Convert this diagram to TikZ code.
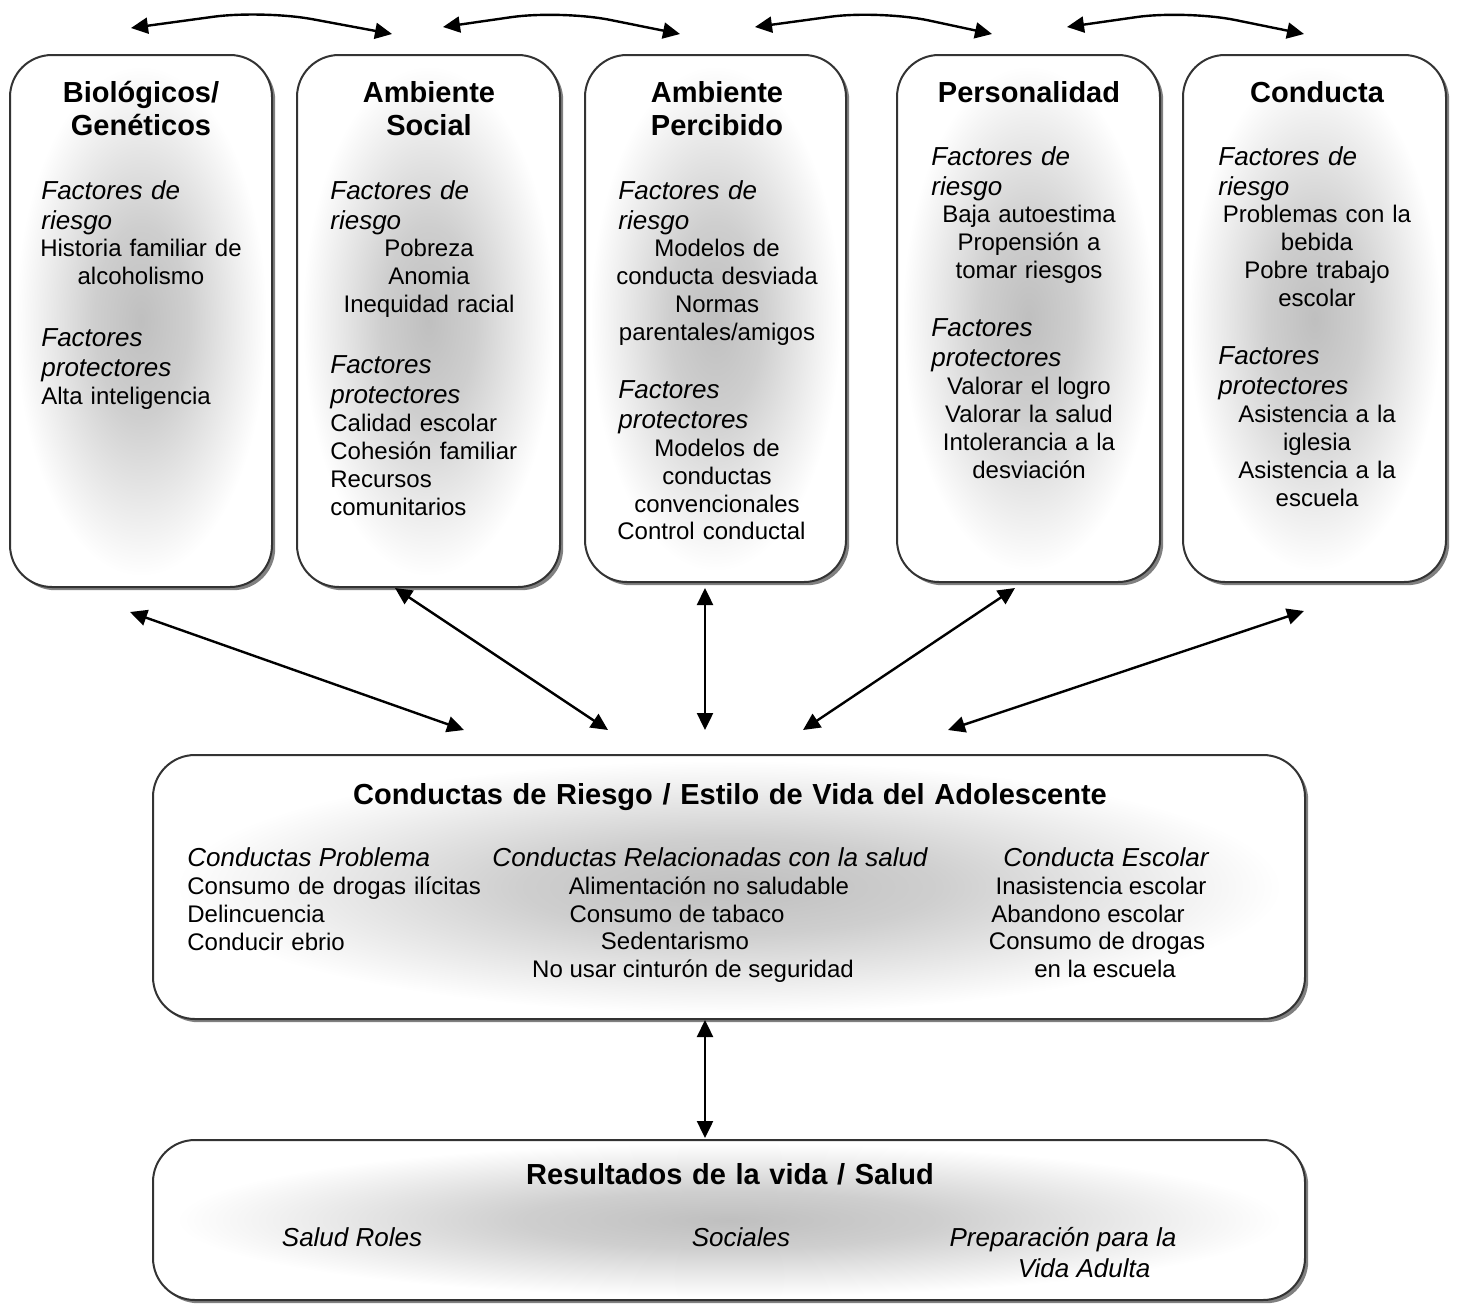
\documentclass[tikz,border=0pt]{standalone}
\usepackage{fontspec}
\setmainfont{Liberation Sans}
\usetikzlibrary{arrows.meta,positioning,shadows}

% soft grey glow inside the panels
\pgfdeclareradialshading{panelglow}{\pgfpoint{0bp}{0bp}}{%
  color(0bp)=(black!25); color(9bp)=(black!19);
  color(24bp)=(white); color(50bp)=(white)}

\begin{document}
\begin{tikzpicture}[x=0.5pt, y=-0.5pt,
  panel/.style={
    draw=black!80, line width=1pt, rounded corners=21pt,
    shade, shading=panelglow, inner sep=0pt,
    drop shadow={shadow xshift=1.6pt, shadow yshift=-1.6pt,
      fill=black!50, opacity=1}
  },
  ttl/.style={font=\fontsize{14.5}{16.5}\selectfont\bfseries,
    text width=125pt, align=center, inner sep=0pt, anchor=base},
  hdr/.style={font=\fontsize{13}{15}\selectfont\itshape,
    text width=125pt, align=left, inner sep=0pt, anchor=base west},
  txt/.style={font=\fontsize{12}{14}\selectfont,
    text width=125pt, align=center, inner sep=0pt, anchor=base},
  txtl/.style={txt, align=left, anchor=base west},
  lbl/.style={font=\fontsize{12}{14}\selectfont, inner sep=0pt, anchor=base},
  ilbl/.style={font=\fontsize{13}{15}\selectfont\itshape, inner sep=0pt,
    anchor=base},
  arr/.style={{Triangle[length=8.5pt,width=8pt]}-{Triangle[length=8.5pt,width=8pt]},
    line width=1.2pt}]

\useasboundingbox (0,0) rectangle (1460,1306);

% Panels
\node[panel, minimum width=131pt, minimum height=266pt] (bio) at (141,321) {};
\node[panel, minimum width=131.5pt, minimum height=266pt] (soc) at (428.5,321) {};
\node[panel, minimum width=130.5pt, minimum height=263.5pt] (per) at (715.5,318.5) {};
\node[panel, minimum width=131.5pt, minimum height=263.5pt] (pers) at (1028.5,318.5) {};
\node[panel, minimum width=131.5pt, minimum height=263.5pt] (cond) at (1314.5,318.5) {};
\node[panel, minimum width=576pt, minimum height=132pt] (estilo) at (729,887) {};
\node[panel, minimum width=576pt, minimum height=80pt] (result) at (729,1220) {};

% Biologicos / Geneticos
\node[ttl] (bioT) at (141,102) {Biológicos/\\Genéticos};
\node[hdr] (bioH1) at (41,199) {Factores de\\riesgo};
\node[txt] (bioR) at (141,256) {Historia familiar de\\alcoholismo};
\node[hdr] (bioH2) at (41,346) {Factores\\protectores};
\node[txtl] (bioP) at (41,404) {Alta inteligencia};

% Ambiente social
\node[ttl] (socT) at (429,102) {Ambiente\\Social};
\node[hdr] (socH1) at (330,199) {Factores de\\riesgo};
\node[txt] (socR) at (429,256) {Pobreza\\Anomia\\Inequidad racial};
\node[hdr] (socH2) at (330,373) {Factores\\protectores};
\node[txtl] (socP) at (330,431)
  {Calidad escolar\\Cohesión familiar\\Recursos\\comunitarios};

% Ambiente percibido
\node[ttl] (perT) at (717,102) {Ambiente\\Percibido};
\node[hdr] (perH1) at (618,199) {Factores de\\riesgo};
\node[txt] (perR) at (717,256)
  {Modelos de\\conducta desviada\\Normas\\parentales/amigos};
\node[hdr] (perH2) at (618,398) {Factores\\protectores};
\node[txt] (perP) at (717,456) {Modelos de\\conductas\\convencionales};
\node[txtl] (perC) at (617,539) {Control conductal};

% Personalidad
\node[ttl] (persT) at (1029,102) {Personalidad};
\node[hdr] (persH1) at (931,165) {Factores de\\riesgo};
\node[txt] (persR) at (1029,222) {Baja autoestima\\Propensión a\\tomar riesgos};
\node[hdr] (persH2) at (931,336) {Factores\\protectores};
\node[txt] (persP) at (1029,394)
  {Valorar el logro\\Valorar la salud\\Intolerancia a la\\desviación};

% Conducta
\node[ttl] (condT) at (1317,102) {Conducta};
\node[hdr] (condH1) at (1218,165) {Factores de\\riesgo};
\node[txt] (condR) at (1317,222)
  {Problemas con la\\bebida\\Pobre trabajo\\escolar};
\node[hdr] (condH2) at (1218,364) {Factores\\protectores};
\node[txt] (condP) at (1317,422)
  {Asistencia a la\\iglesia\\Asistencia a la\\escuela};

% Conductas de riesgo / estilo de vida
\node[ttl, text width=420pt] (estT) at (730,804)
  {Conductas de Riesgo / Estilo de Vida del Adolescente};
\node[ilbl, anchor=base west] (estH1) at (187,866) {Conductas Problema};
\node[txtl, text width=160pt] (estB1) at (187,894)
  {Consumo de drogas ilícitas\\Delincuencia\\Conducir ebrio};
\node[ilbl] (estH2) at (710,866) {Conductas Relacionadas con la salud};
\node[lbl] (estB2a) at (709,894) {Alimentación no saludable};
\node[lbl] (estB2b) at (677,922) {Consumo de tabaco};
\node[lbl] (estB2c) at (675,949) {Sedentarismo};
\node[lbl] (estB2d) at (693,977) {No usar cinturón de seguridad};
\node[ilbl] (estH3) at (1106,866) {Conducta Escolar};
\node[lbl] (estB3a) at (1101,894) {Inasistencia escolar};
\node[lbl] (estB3b) at (1088,922) {Abandono escolar};
\node[lbl] (estB3c) at (1097,949) {Consumo de drogas};
\node[lbl] (estB3d) at (1105,977) {en la escuela};

% Resultados
\node[ttl, text width=300pt] (resT) at (730,1184) {Resultados de la vida / Salud};
\node[ilbl] (resA) at (352,1246) {Salud Roles};
\node[ilbl] (resB) at (741,1246) {Sociales};
\node[ilbl] (resC) at (1063,1246) {Preparación para la};
\node[ilbl] (resD) at (1084,1277) {Vida Adulta};

% Arrow ends
\coordinate (t1a) at (131,28);  \coordinate (t1m) at (263,10);  \coordinate (t1b) at (392,34);
\coordinate (t2a) at (443,27);  \coordinate (t2m) at (561,10);  \coordinate (t2b) at (680,34);
\coordinate (t3a) at (755,27);  \coordinate (t3m) at (880,10);  \coordinate (t3b) at (992,34);
\coordinate (t4a) at (1067,27); \coordinate (t4m) at (1186,10); \coordinate (t4b) at (1304,34);
\coordinate (a1) at (130,612);  \coordinate (a1e) at (464,730);
\coordinate (a2) at (395,588);  \coordinate (a2e) at (608,730);
\coordinate (a3) at (705,588);  \coordinate (a3e) at (705,730);
\coordinate (a4) at (1015,588); \coordinate (a4e) at (803,730);
\coordinate (a5) at (1304,611); \coordinate (a5e) at (948,730);
\coordinate (a6) at (705,1020); \coordinate (a6e) at (705,1138);

% Arrows between panels
\draw[arr, rounded corners=25pt] (t1a) -- (t1m) -- (t1b);
\draw[arr, rounded corners=25pt] (t2a) -- (t2m) -- (t2b);
\draw[arr, rounded corners=25pt] (t3a) -- (t3m) -- (t3b);
\draw[arr, rounded corners=25pt] (t4a) -- (t4m) -- (t4b);

% Arrows to the lifestyle panel
\draw[arr] (a1) -- (a1e);
\draw[arr] (a2) -- (a2e);
\draw[arr] (a3) -- (a3e);
\draw[arr] (a4) -- (a4e);
\draw[arr] (a5) -- (a5e);
\draw[arr] (a6) -- (a6e);

\end{tikzpicture}
\end{document}
